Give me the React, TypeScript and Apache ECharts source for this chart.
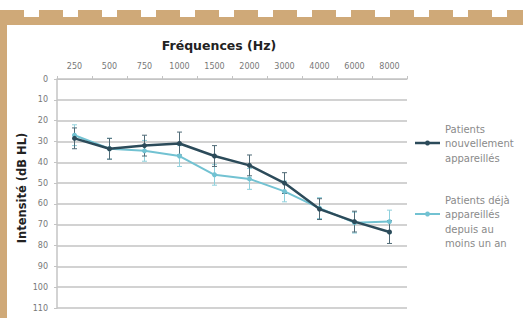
import React, { useEffect, useRef } from "react";
import * as echarts from "echarts";

const categories = ["250", "500", "750", "1000", "1500", "2000", "3000", "4000", "6000", "8000"];
const nouveaux = [28.5, 33.5, 32, 31, 37, 41.5, 50, 62.5, 68.5, 73.5];
const nouveauxErr = [5, 5, 5, 5.5, 5, 5, 5, 5, 5, 5.5];
const anciens = [27, 33.5, 34.5, 37, 46, 48, 54, 62, 69, 68.5];
const anciensErr = [5, 5, 5, 5, 5, 5, 5, 5, 5, 5.5];
const nameNouveaux = "Patients nouvellement appareillés";
const nameAnciens = "Patients déjà appareillés depuis au moins un an";
const yMin = 0;
const yMax = 110;
const yStep = 10;

const DARK = "#2c4b5a";
const LIGHT = "#72c2d2";
const TAN = "#cfa978";

function errorSeries(name: string, vals: number[], errs: number[], color: string) {
  return {
    type: "custom",
    name: name + " err",
    z: 3,
    renderItem: (_p: any, api: any) => {
      const i = api.value(0);
      const a = api.coord([i, api.value(1)]);
      const b = api.coord([i, api.value(2)]);
      const w = 2.5;
      const style = { stroke: color, lineWidth: 1 };
      return {
        type: "group",
        children: [
          { type: "line", shape: { x1: a[0], y1: a[1], x2: b[0], y2: b[1] }, style },
          { type: "line", shape: { x1: a[0] - w, y1: a[1], x2: a[0] + w, y2: a[1] }, style },
          { type: "line", shape: { x1: b[0] - w, y1: b[1], x2: b[0] + w, y2: b[1] }, style },
        ],
      };
    },
    data: vals.map((v, i) => [i, v - errs[i], v + errs[i]]),
  };
}

export default function App() {
  const ref = useRef<HTMLDivElement>(null);
  useEffect(() => {
    document.body.style.margin = "0";
    const chart = echarts.init(ref.current!, null, { renderer: "svg" });
    const dashes: any[] = [];
    for (let x = 0; x < 523; x += 39) {
      dashes.push({ type: "rect", shape: { x, y: 10, width: 24, height: 8 }, style: { fill: TAN }, silent: true });
    }
    const legendText = (x: number, y: number, lines: string[]) =>
      lines.map((t, k) => ({
        type: "text",
        x,
        y: y + k * 14.5,
        style: { text: t, fill: "#8a8a8a", fontSize: 10, fontFamily: "DejaVu Sans", verticalAlign: "middle" },
      }));
    const legendSym = (y: number, color: string, lw: number) => [
      { type: "line", shape: { x1: 415, y1: y, x2: 440, y2: y }, style: { stroke: color, lineWidth: lw } },
      { type: "circle", shape: { cx: 427.5, cy: y, r: 2.5 }, style: { fill: color } },
    ];
    chart.setOption({
      animation: false,
      backgroundColor: "#ffffff",
      grid: { left: 57, right: 116, top: 79, bottom: 12 },
      xAxis: {
        type: "category",
        position: "top",
        data: categories,
        boundaryGap: true,
        axisLine: { show: true, lineStyle: { color: "#c4c4c4", width: 1 } },
        axisTick: { show: true, length: 3, lineStyle: { color: "#c4c4c4" } },
        axisLabel: { fontSize: 8, color: "#777", margin: 9, fontFamily: "DejaVu Sans" },
        splitLine: { show: false },
      },
      yAxis: {
        type: "value",
        inverse: true,
        min: yMin,
        max: yMax,
        interval: yStep,
        axisLine: { show: true, lineStyle: { color: "#c4c4c4", width: 1.5 } },
        axisTick: { show: true, length: 3, lineStyle: { color: "#c4c4c4" } },
        axisLabel: { fontSize: 8, color: "#777", margin: 9, fontFamily: "DejaVu Sans" },
        splitLine: { show: true, lineStyle: { color: "#d2d2d2", width: 2 } },
      },
      series: [
        errorSeries(nameAnciens, anciens, anciensErr, "#8fd0dc"),
        errorSeries(nameNouveaux, nouveaux, nouveauxErr, "#4f6a76"),
        {
          type: "line",
          name: nameAnciens,
          data: anciens,
          z: 4,
          symbol: "circle",
          symbolSize: 5,
          lineStyle: { color: LIGHT, width: 2 },
          itemStyle: { color: LIGHT },
        },
        {
          type: "line",
          name: nameNouveaux,
          data: nouveaux,
          z: 5,
          symbol: "circle",
          symbolSize: 5,
          lineStyle: { color: DARK, width: 2.5 },
          itemStyle: { color: DARK },
        },
      ],
      graphic: [
        ...dashes,
        { type: "rect", shape: { x: 0, y: 17, width: 523, height: 8 }, style: { fill: TAN }, silent: true },
        { type: "rect", shape: { x: 0, y: 10, width: 7, height: 308 }, style: { fill: TAN }, silent: true },
        {
          type: "text",
          x: 219,
          y: 45,
          style: {
            text: "Fréquences (Hz)",
            fill: "#222",
            fontSize: 12.5,
            fontWeight: "bold",
            fontFamily: "DejaVu Sans",
            align: "center",
            verticalAlign: "middle",
          },
        },
        {
          type: "text",
          x: 22,
          y: 188,
          rotation: Math.PI / 2,
          style: {
            text: "Intensité (dB HL)",
            fill: "#222",
            fontSize: 11.5,
            fontWeight: "bold",
            fontFamily: "DejaVu Sans",
            align: "center",
            verticalAlign: "middle",
          },
        },
        ...legendSym(143, DARK, 2.5),
        ...legendText(445, 129, ["Patients", "nouvellement", "appareillés"]),
        ...legendSym(214, LIGHT, 2),
        ...legendText(445, 200, ["Patients déjà", "appareillés", "depuis au", "moins un an"]),
      ],
    });
    return () => chart.dispose();
  }, []);
  return <div ref={ref} style={{ width: 523, height: 320 }} />;
}
